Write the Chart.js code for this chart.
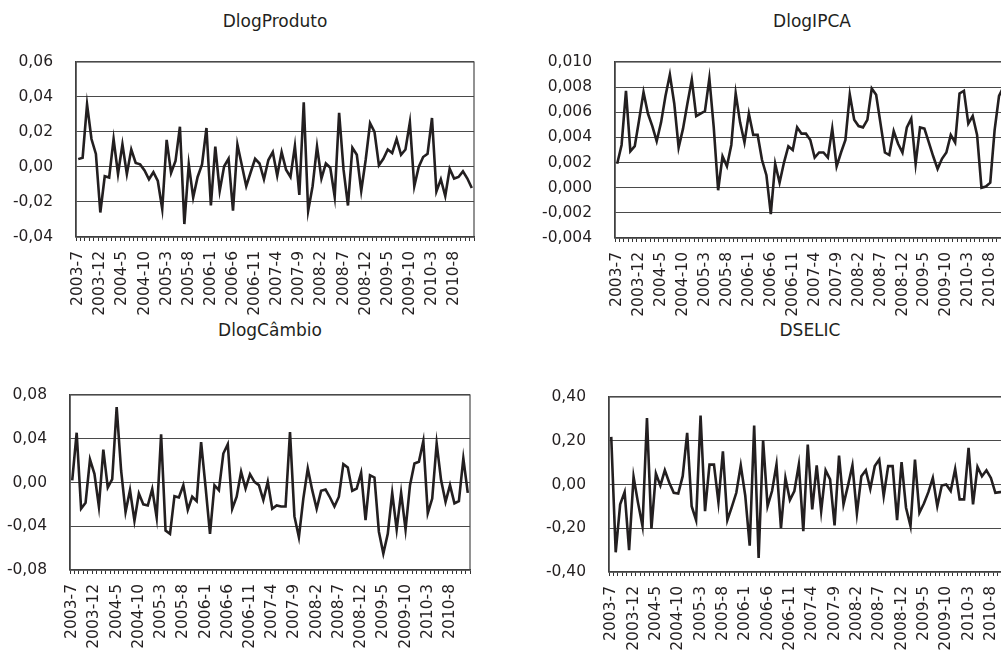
<!DOCTYPE html>
<html lang="pt">
<head>
  <meta charset="UTF-8" />
  <title>DlogProduto, DlogIPCA, DlogCâmbio, DSELIC</title>
  <script src="https://cdn.jsdelivr.net/npm/chart.js"></script>
  <style>
    html, body {
      margin: 0;
      padding: 0;
      width: 1001px;
      height: 651px;
      overflow: hidden;
      background: #fff;
      font-family: "DejaVu Sans", sans-serif;
      color: #231f20;
    }
    canvas { position: absolute; }
    .title {
      position: absolute;
      width: 300px;
      text-align: center;
      font-size: 17px;
      line-height: 20px;
    }
  </style>
</head>
<body>
  <div class="title" style="left:125px; top:11px;">DlogProduto</div>
  <div class="title" style="left:662px; top:11px;">DlogIPCA</div>
  <div class="title" style="left:120px; top:320px;">DlogCâmbio</div>
  <div class="title" style="left:660px; top:320px;">DSELIC</div>

  <canvas id="c1" width="494" height="285" style="left:0px; top:42px;"></canvas>
  <canvas id="c2" width="491" height="286" style="left:539px; top:42px;"></canvas>
  <canvas id="c3" width="496" height="285" style="left:-6px; top:375px;"></canvas>
  <canvas id="c4" width="498" height="285" style="left:533px; top:377px;"></canvas>

<script>
  const months = [
    '2003-7','2003-8','2003-9','2003-10','2003-11','2003-12',
    '2004-1','2004-2','2004-3','2004-4','2004-5','2004-6','2004-7','2004-8','2004-9','2004-10','2004-11','2004-12',
    '2005-1','2005-2','2005-3','2005-4','2005-5','2005-6','2005-7','2005-8','2005-9','2005-10','2005-11','2005-12',
    '2006-1','2006-2','2006-3','2006-4','2006-5','2006-6','2006-7','2006-8','2006-9','2006-10','2006-11','2006-12',
    '2007-1','2007-2','2007-3','2007-4','2007-5','2007-6','2007-7','2007-8','2007-9','2007-10','2007-11','2007-12',
    '2008-1','2008-2','2008-3','2008-4','2008-5','2008-6','2008-7','2008-8','2008-9','2008-10','2008-11','2008-12',
    '2009-1','2009-2','2009-3','2009-4','2009-5','2009-6','2009-7','2009-8','2009-9','2009-10','2009-11','2009-12',
    '2010-1','2010-2','2010-3','2010-4','2010-5','2010-6','2010-7','2010-8','2010-9','2010-10','2010-11','2010-12'
  ];

  const dlogProduto = [
    0.0045, 0.0053, 0.0358, 0.016, 0.0075, -0.026, -0.0053, -0.006, 0.016, -0.004,
    0.013, -0.004, 0.010, 0.0023, 0.0015, -0.002, -0.007, -0.003, -0.008, -0.024,
    0.0155, -0.0034, 0.0034, 0.023, -0.0326, 0.0015, -0.0174, -0.0057, 0.0015, 0.0223,
    -0.022, 0.0117, -0.0136, 0.0004, 0.0047, -0.025, 0.0128, 0.001, -0.011, -0.003,
    0.0047, 0.002, -0.007, 0.004, 0.0085, -0.005, 0.0085, -0.0015, -0.0057, 0.012,
    -0.016, 0.037, -0.025, -0.011, 0.0117, -0.0066, 0.002, -0.0004, -0.017, 0.031,
    -0.0015, -0.022, 0.011, 0.007, -0.0136, 0.004, 0.025, 0.020, 0.001, 0.0047,
    0.010, 0.008, 0.016, 0.007, 0.010, 0.0255, -0.011, 0.000, 0.0057, 0.0075,
    0.028, -0.014, -0.007, -0.0166, -0.001, -0.0066, -0.0057, -0.0025, -0.0066, -0.012
  ];

  const dlogIPCA = [
    0.0019, 0.0034, 0.0077, 0.0029, 0.0033, 0.0054, 0.0076, 0.0059, 0.0049, 0.0037,
    0.0052, 0.0073, 0.0090, 0.0067, 0.0032, 0.0047, 0.0067, 0.0086, 0.0057, 0.0059,
    0.0061, 0.0087, 0.0048, -0.0002, 0.0025, 0.0017, 0.0034, 0.0075, 0.0052, 0.0036,
    0.0059, 0.0042, 0.0042, 0.0022, 0.0010, -0.0021, 0.0019, 0.0004, 0.0020, 0.0033,
    0.0030, 0.0048, 0.0043, 0.0043, 0.0038, 0.0024, 0.0028, 0.0028, 0.0024, 0.0047,
    0.0017, 0.0028, 0.0038, 0.0074, 0.0054, 0.0049, 0.0048, 0.0054, 0.0079, 0.0074,
    0.0051, 0.0028, 0.0026, 0.0045, 0.0035, 0.0028, 0.0048, 0.0055, 0.0019, 0.0048,
    0.0047, 0.0036, 0.0025, 0.0015, 0.0023, 0.0028, 0.0042, 0.0036, 0.0075, 0.0077,
    0.0051, 0.0057, 0.0042, 0.0000, 0.0001, 0.0004, 0.0046, 0.0073, 0.0080, 0.0070
  ];

  const dlogCambio = [
    0.002, 0.0455, -0.024, -0.0186, 0.021, 0.008, -0.022, 0.030, -0.0046, 0.003,
    0.069, 0.011, -0.027, -0.007, -0.035, -0.010, -0.020, -0.021, -0.006, -0.032,
    0.044, -0.044, -0.047, -0.0125, -0.0137, -0.0025, -0.025, -0.013, -0.017, 0.037,
    -0.004, -0.047, -0.0025, -0.007, 0.0265, 0.035, -0.024, -0.013, 0.0098, -0.0055,
    0.0076, 0.0006, -0.0024, -0.016, 0.0006, -0.024, -0.021, -0.022, -0.022, 0.046,
    -0.031, -0.050, -0.0147, 0.0128, -0.007, -0.024, -0.0076, -0.0064, -0.0137, -0.022,
    -0.013, 0.0168, 0.0137, -0.0076, -0.0055, 0.0089, -0.0345, 0.0067, 0.0046, -0.045,
    -0.065, -0.047, -0.0095, -0.043, -0.0095, -0.043, -0.0024, 0.0174, 0.019, 0.038,
    -0.028, -0.0147, 0.0357, 0.002, -0.0177, -0.0024, -0.019, -0.017, 0.022, -0.0095
  ];

  const dSelic = [
    0.2175, -0.31, -0.091, -0.035, -0.30, 0.035, -0.084, -0.19, 0.304, -0.202,
    0.050, -0.005, 0.065, 0.008, -0.038, -0.041, 0.038, 0.236, -0.099, -0.163,
    0.315, -0.122, 0.091, 0.091, -0.081, 0.152, -0.163, -0.102, -0.038, 0.087,
    -0.05, -0.28, 0.27, -0.336, 0.202, -0.099, -0.030, 0.091, -0.20, 0.030,
    -0.071, -0.030, 0.091, -0.213, 0.183, -0.114, 0.087, -0.122, 0.065, 0.023,
    -0.187, 0.132, -0.091, -0.005, 0.087, -0.132, 0.038, 0.065, -0.020, 0.084,
    0.114, -0.053, 0.084, 0.084, -0.163, 0.102, -0.106, -0.19, 0.114, -0.129,
    -0.087, -0.035, 0.030, -0.099, -0.005, 0.000, -0.030, 0.071, -0.068, -0.068,
    0.167, -0.091, 0.081, 0.038, 0.065, 0.030, -0.038, -0.035, -0.03, 0.000
  ];

  const INK = '#231f20';
  const GRID = '#4a4a4a';
  const FONT = { family: '"DejaVu Sans", sans-serif', size: 15.5 };

  // frame round the plot area (Excel style box)
  const frame = {
    id: 'frame',
    beforeDatasetsDraw(chart) {
      const a = chart.chartArea, ctx = chart.ctx;
      ctx.save();
      ctx.strokeStyle = GRID;
      ctx.lineWidth = 1.2;
      ctx.strokeRect(a.left, a.top, a.right - a.left, a.bottom - a.top);
      ctx.restore();
    }
  };

  function fmt(decimals) {
    return v => {
      const r = Math.round(v * Math.pow(10, decimals)) / Math.pow(10, decimals);
      return (r === 0 ? 0 : r).toFixed(decimals).replace('.', ',');
    };
  }

  function makePanel(id, data, min, max, step, decimals) {
    return new Chart(document.getElementById(id), {
      type: 'line',
      data: {
        labels: months,
        datasets: [{
          data: data,
          borderColor: INK,
          borderWidth: 2.6,
          pointRadius: 0,
          tension: 0,
          fill: false
        }]
      },
      options: {
        responsive: false,
        animation: false,
        devicePixelRatio: 1,
        layout: { padding: { top: 20, right: 20, left: 0, bottom: 0 } },
        plugins: { legend: { display: false }, title: { display: false }, tooltip: { enabled: false } },
        scales: {
          x: {
            offset: true,
            afterFit: s => { s.height = 90; s.paddingLeft = 0; s.paddingRight = 0; },
            grid: { drawOnChartArea: false, drawTicks: true, tickLength: 4, color: '#333', offset: true },
            border: { color: '#333', width: 1.5 },
            ticks: {
              autoSkip: false,
              maxRotation: 90,
              minRotation: 90,
              padding: 10,
              color: INK,
              font: FONT,
              callback: (v, i) => (i % 5 === 0 ? months[i] : '')
            }
          },
          y: {
            min: min,
            max: max,
            afterFit: s => { s.width = 76; s.paddingTop = 0; s.paddingBottom = 0; },
            grid: { color: GRID, lineWidth: 1.1, drawTicks: false },
            border: { color: '#333', width: 1.5 },
            ticks: { stepSize: step, padding: 23, color: INK, font: FONT, callback: fmt(decimals) }
          }
        }
      },
      plugins: [frame]
    });
  }

  makePanel('c1', dlogProduto, -0.04, 0.06, 0.02, 2);
  makePanel('c2', dlogIPCA, -0.004, 0.010, 0.002, 3);
  makePanel('c3', dlogCambio, -0.08, 0.08, 0.04, 2);
  makePanel('c4', dSelic, -0.4, 0.4, 0.2, 2);
</script>
</body>
</html>
